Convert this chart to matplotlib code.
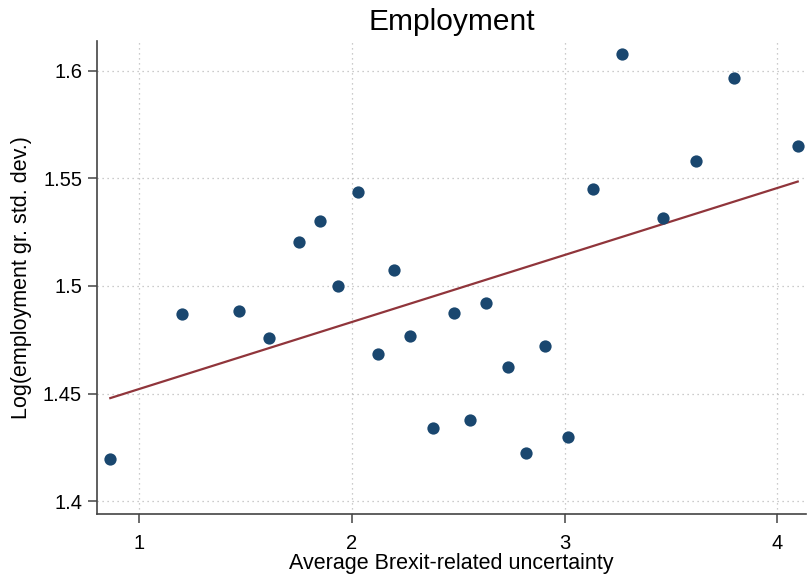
import matplotlib.pyplot as plt
import numpy as np

plt.rcParams['font.family'] = ['Liberation Sans', 'DejaVu Sans']

# average Brexit-related uncertainty (x) and log employment growth std. dev. (y)
uncertainty = [0.864, 1.199, 1.467, 1.611, 1.751, 1.848, 1.936, 2.027, 2.121,
               2.199, 2.273, 2.381, 2.480, 2.555, 2.630, 2.735, 2.817, 2.909,
               3.014, 3.135, 3.271, 3.462, 3.618, 3.795, 4.096]
log_emp_sd = [1.4197, 1.4870, 1.4882, 1.4760, 1.5206, 1.5302, 1.5000, 1.5438,
              1.4683, 1.5073, 1.4768, 1.4342, 1.4875, 1.4376, 1.4922, 1.4622,
              1.4225, 1.4723, 1.4297, 1.5451, 1.6077, 1.5317, 1.5582, 1.5968,
              1.5651]

x_ticks = [1, 2, 3, 4]
y_ticks = [1.4, 1.45, 1.5, 1.55, 1.6]
y_labels = ['1.4', '1.45', '1.5', '1.55', '1.6']

navy = '#1a476f'
maroon = '#90353b'

x = np.array(uncertainty)
y = np.array(log_emp_sd)
slope, icpt = np.polyfit(x, y, 1)
xs = np.array([x.min(), x.max()])

fig = plt.figure(figsize=(8.07, 5.75), dpi=100)
ax = fig.add_axes([0.1198, 0.1056, 0.879, 0.8231])

ax.grid(True, color='#bbbbbb', linestyle=(0, (1, 3)), linewidth=0.9)
ax.set_axisbelow(True)
ax.scatter(x, y, s=78, color=navy, zorder=3, linewidths=0)
ax.plot(xs, icpt + slope * xs, color=maroon, linewidth=1.6, zorder=2)

ax.set_xlim(0.8, 4.135)
ax.set_ylim(1.3939, 1.6138)
ax.set_xticks(x_ticks)
ax.set_yticks(y_ticks)
ax.set_yticklabels(y_labels)

for s in ['top', 'right']:
    ax.spines[s].set_visible(False)
for s in ['left', 'bottom']:
    ax.spines[s].set_color('#444444')
    ax.spines[s].set_linewidth(1.2)
ax.tick_params(direction='out', length=6.5, width=1.1, color='#444444',
               labelsize=14.5)
ax.tick_params(axis='x', pad=8)
ax.tick_params(axis='y', pad=4)

ax.set_title('Employment', fontsize=21.5, pad=8)
ax.set_xlabel('Average Brexit-related uncertainty', fontsize=15.5, labelpad=0)
ax.set_ylabel('Log(employment gr. std. dev.)', fontsize=15.5, labelpad=8)

fig.savefig('out.png', dpi=100, facecolor='white')
